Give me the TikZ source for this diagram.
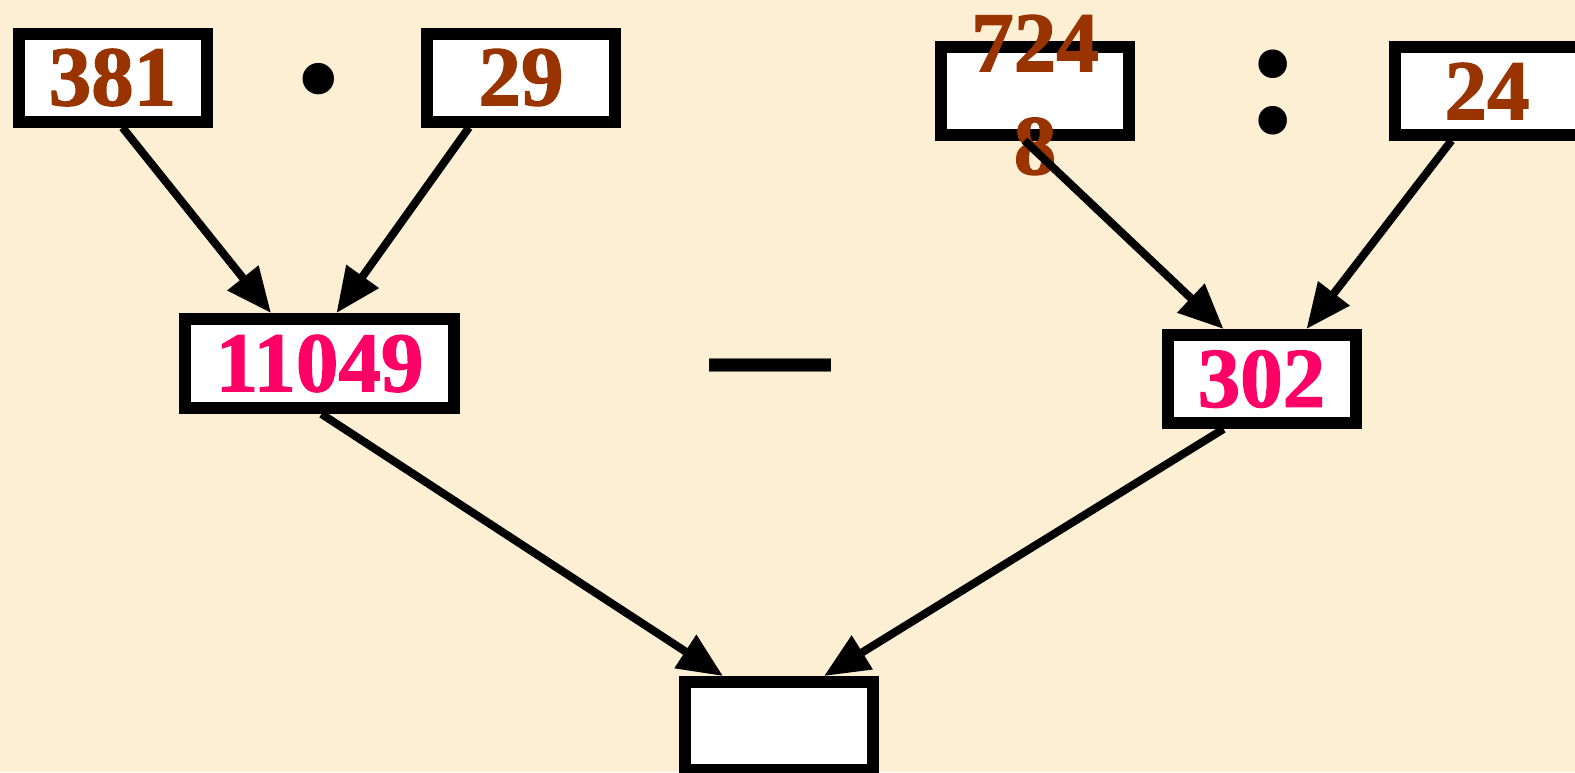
\documentclass[tikz,border=0pt]{standalone}
\usepackage{fontspec}
\setmainfont{Liberation Serif}
\usetikzlibrary{arrows.meta}
\definecolor{bgc}{HTML}{FCEFD3}
\definecolor{numbrown}{HTML}{993300}
\definecolor{respink}{HTML}{FF0066}
\begin{document}
\begin{tikzpicture}[x=1pt,y=-1pt,
  box/.style={draw=black,line width=12pt,fill=white,rectangle,inner sep=0pt,
    minimum width=188pt,minimum height=88pt},
  num/.style={font=\fontsize{85}{103}\selectfont\bfseries\addfontfeature{FakeBold=1.5},text=numbrown,inner sep=0pt,align=center},
  res/.style={num,text=respink},
  op/.style={inner sep=0pt,text=black},
  arr/.style={line width=8pt,-{Triangle[length=45pt,width=38pt]}}]
\fill[bgc] (0,0) rectangle (1575,772);
\useasboundingbox (0,0) rectangle (1575,772);
% top boxes
\node[box] (b381) at (112.5,77.5) {};
\node[num] (t381) at (b381.center) {381};
\node[box] (b29) at (521,77.5) {};
\node[num] (t29) at (b29.center) {29};
\node[box] (b7248) at (1035,90.5) {};
\node[num] (t7248) at (1035,95) {724\\8};
\node[box] (b24) at (1489,90.5) {};
\node[num] (t24) at (1487,91) {24};
% middle boxes
\node[box,minimum width=269pt,minimum height=89pt] (b11049) at (319.5,363.5) {};
\node[res] (t11049) at (b11049.center) {11049};
\node[box] (b302) at (1261.5,379) {};
\node[res] (t302) at (b302.center) {302};
% bottom box
\node[box] (bres) at (778.5,726) {};
% operators
\node[op,font=\fontsize{116}{116}\selectfont\bfseries,anchor=base] (omul) at (319,117) {•};
\node[op,font=\fontsize{176}{176}\selectfont\bfseries,anchor=base] (odiv) at (1274,132.5) {:};
\node[op,font=\fontsize{262}{262}\selectfont,anchor=base] (ominus) at (770,452) {−};
% arrows
\draw[arr] ([xshift=10pt]b381.south) -- ([xshift=-48.5pt]b11049.north);
\draw[arr] ([xshift=-52pt]b29.south) -- ([xshift=17pt]b11049.north);
\draw[arr] ([xshift=-10.5pt]b7248.south) -- ([xshift=-38pt]b302.north);
\draw[arr] ([xshift=-37.5pt]b24.south) -- ([xshift=45pt]b302.north);
\draw[arr] ([xshift=2pt]b11049.south) -- ([xshift=-55.5pt]bres.north);
\draw[arr] ([xshift=-38pt]b302.south) -- ([xshift=45.5pt]bres.north);
\end{tikzpicture}
\end{document}
